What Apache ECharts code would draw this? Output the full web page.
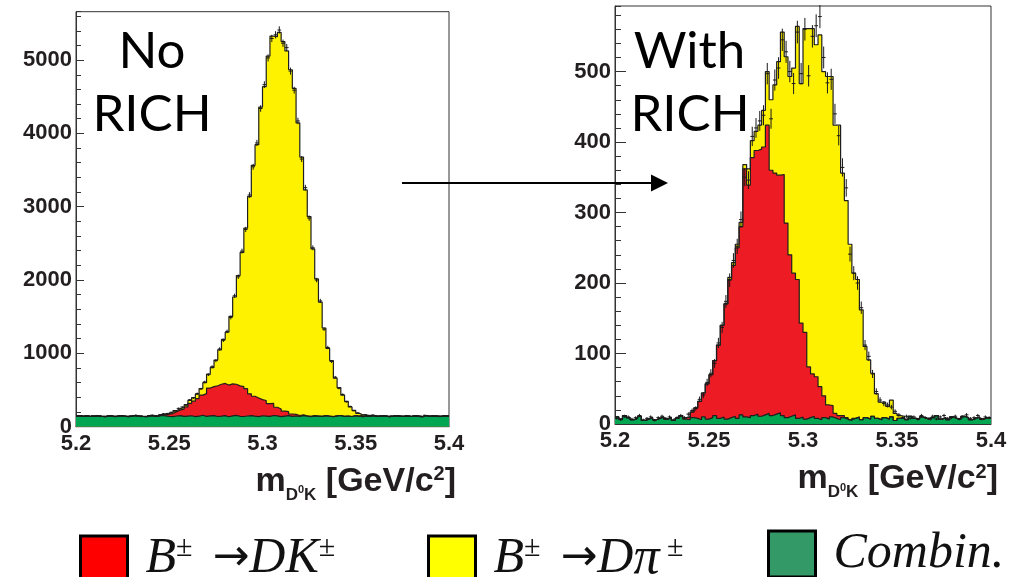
<!DOCTYPE html>
<html>
<head>
<meta charset="utf-8">
<script src="https://cdn.jsdelivr.net/npm/echarts@6/dist/echarts.min.js"></script>
<style>
  html, body { margin: 0; padding: 0; background: #ffffff; }
  #chart { width: 1017px; height: 577px; }
</style>
</head>
<body>
<div id="chart"></div>
<script>
// m(D0K) histograms: 100 bins of 2 MeV/c^2 between 5.2 and 5.4 GeV/c^2
const MASS_MIN = 5.2;
const MASS_MAX = 5.4;
const BIN_WIDTH = 0.002;
const massTicks = [5.2, 5.25, 5.3, 5.35, 5.4];

// ---- Without RICH particle identification ----
const combNoRich = [
  148,142,150,139,145,152,141,137,149,144,
  140,151,146,138,143,155,147,141,136,150,
  144,139,153,148,142,137,146,151,140,145,
  149,138,143,156,141,147,152,139,144,150,
  136,148,154,142,139,146,151,143,137,149,
  145,140,153,147,138,144,150,141,146,139,
  152,143,137,148,145,140,151,144,138,147,
  153,141,146,139,150,143,137,148,144,152,
  140,145,149,138,143,151,146,141,147,139,
  150,144,138,153,142,148,145,140,151,146
];
const dkNoRich = [
  0,0,0,0,0,0,0,0,0,0,
  0,0,0,0,0,0,0,0,0,2,
  3,5,8,15,30,42,60,78,100,125,
  170,210,240,275,310,380,395,420,435,440,
  432,436,425,415,408,372,298,272,255,220,
  212,175,165,118,104,68,55,32,22,14,
  10,6,4,2,1,0,0,0,0,0,
  0,0,0,0,0,0,0,0,0,0,
  0,0,0,0,0,0,0,0,0,0,
  0,0,0,0,0,0,0,0,0,0
];
const dpiNoRich = [
  0,0,0,0,0,0,0,0,0,0,
  0,0,0,0,0,0,0,0,2,3,
  4,5,6,8,10,12,14,17,22,30,
  40,50,60,90,150,190,260,350,470,600,
  720,920,1190,1505,1830,2190,2690,3150,3455,3990,
  4280,4740,5010,5055,5135,5040,4920,4695,4445,3990,
  3515,3080,2725,2275,1870,1560,1195,925,765,515,
  380,288,200,130,72,40,22,12,6,3,
  0,0,0,0,0,0,0,0,0,0,
  0,0,0,0,0,0,0,0,0,0
];
const dataNoRich = [
  145,150,144,142,151,147,139,143,146,149,
  137,148,150,141,146,152,144,138,141,152,
  156,147,163,175,180,196,214,250,268,296,
  366,392,451,515,610,709,818,901,1060,1178,
  1300,1490,1785,2045,2395,2690,3160,3545,3870,4340,
  4665,5030,5295,5345,5410,5230,5170,4850,4590,4170,
  3650,3260,2845,2440,2000,1715,1330,1080,890,675,
  525,440,340,276,218,188,156,163,147,158,
  143,148,151,140,146,149,143,139,150,142,
  147,141,136,155,144,150,147,138,149,144
];

// ---- With RICH particle identification ----
const combRich = [
  10,7,12,9,6,8,11,5,7,9,
  6,8,10,7,9,5,8,11,7,6,
  9,8,6,10,7,9,12,8,10,7,
  9,11,8,13,10,9,12,14,11,13,
  15,12,14,16,12,9,11,13,8,10,
  7,9,11,8,6,9,7,10,8,6,
  9,7,5,8,10,6,9,7,11,8,
  6,9,7,10,5,8,9,6,11,8,
  7,10,8,6,9,12,7,9,6,10,
  8,7,11,9,6,8,10,7,9,8
];
const dkRich = [
  0,0,0,0,0,0,0,0,0,0,
  0,0,0,0,0,0,0,1,2,4,
  8,15,26,34,50,61,78,104,130,163,
  196,214,242,267,352,330,366,374,379,380,
  409,348,342,337,342,276,229,201,197,133,
  123,72,60,59,47,31,20,16,7,6,
  3,2,1,0,0,0,0,0,0,0,
  0,0,0,0,0,0,0,0,0,0,
  0,0,0,0,0,0,0,0,0,0,
  0,0,0,0,0,0,0,0,0,0
];
const dpiRich = [
  0,0,0,0,0,0,0,0,0,0,
  0,0,0,0,0,0,0,0,0,0,
  0,0,0,0,0,0,0,0,0,1,
  3,4,5,6,6,23,24,27,34,52,
  76,100,125,161,202,236,253,291,359,340,
  431,480,490,471,499,460,466,467,409,412,
  344,308,249,206,195,156,101,84,61,35,
  25,22,18,24,10,4,2,1,0,0,
  0,0,0,0,0,0,0,0,0,0,
  0,0,0,0,0,0,0,0,0,0
];
const dataRich = [
  8,6,11,10,7,9,12,6,8,10,
  5,9,11,8,10,6,9,12,9,14,
  19,22,35,41,59,72,86,115,137,174,
  204,232,252,290,350,346,408,420,430,438,
  497,433,488,505,545,528,500,483,556,497,
  560,494,550,565,578,520,484,489,440,409,
  364,335,241,214,200,165,112,96,71,46,
  34,29,27,24,18,13,9,11,8,10,
  7,12,9,8,11,7,10,12,8,9,
  11,7,10,13,8,9,12,7,10,9
];

// Relative size of the statistical error bars (weighted events)
const ERR_SCALE = 0.68;

const FILL = { dpi: '#fff200', dk: '#ed1c24', comb: '#00a651' };
const LEGEND_FILL = { dk: '#ff0000', dpi: '#ffff00', comb: '#339966' };
const INK = '#231f20';

function addArrays(...arrs) {
  return arrs[0].map((_, i) => arrs.reduce((s, a) => s + a[i], 0));
}
function binLow(i) { return +(MASS_MIN + i * BIN_WIDTH).toFixed(4); }
function stepPoints(values) {
  const pts = values.map((v, i) => [binLow(i), v]);
  pts.push([MASS_MAX, values[values.length - 1]]);
  return pts;
}
function histSeries(name, values, color, panel) {
  return {
    type: 'line', name, xAxisIndex: panel, yAxisIndex: panel * 2,
    data: stepPoints(values), step: 'end', symbol: 'none', showSymbol: false,
    lineStyle: { color: '#1e1e1e', width: 1.2 },
    areaStyle: { color, opacity: 1, origin: 'start' },
    itemStyle: { color },
    silent: true, animation: false, clip: true, z: 2
  };
}
function pointSeries(values, panel) {
  return {
    type: 'custom', xAxisIndex: panel, yAxisIndex: panel * 2,
    silent: true, animation: false, z: 5, clip: false,
    data: values.map((v, i) => [binLow(i) + BIN_WIDTH / 2, v, ERR_SCALE * Math.sqrt(v)]),
    encode: { x: 0, y: 1 },
    renderItem(params, api) {
      const x = api.value(0), y = api.value(1), e = api.value(2);
      const c = api.coord([x, y]);
      const hi = api.coord([x, y + e]);
      const lo = api.coord([x, Math.max(0, y - e)]);
      const half = api.size([BIN_WIDTH, 0])[0] / 2;
      const st = { stroke: '#1a1a1a', lineWidth: 1 };
      return {
        type: 'group',
        children: [
          { type: 'line', shape: { x1: c[0] - half, y1: c[1], x2: c[0] + half, y2: c[1] }, style: st },
          { type: 'line', shape: { x1: c[0], y1: hi[1], x2: c[0], y2: lo[1] }, style: st }
        ]
      };
    }
  };
}

const stackNoRich = addArrays(combNoRich, dkNoRich);
const totalNoRich = addArrays(combNoRich, dkNoRich, dpiNoRich);
const stackRich = addArrays(combRich, dkRich);
const totalRich = addArrays(combRich, dkRich, dpiRich);

const labelFont = { fontFamily: 'Liberation Sans', fontWeight: 'bold', fontSize: 22, color: INK };

const axisTitle = '{b|m}{s|D}{s0|0}{s|K}{b| [GeV/c}{p|2}{b|]}';
const axisTitleRich = {
  b: { fontFamily: 'Liberation Sans', fontWeight: 'bold', fontSize: 34, lineHeight: 44, color: INK },
  s: { fontFamily: 'Liberation Sans', fontWeight: 'bold', fontSize: 17, lineHeight: 10, verticalAlign: 'bottom', color: INK },
  s0: { fontFamily: 'Liberation Sans', fontWeight: 'bold', fontSize: 11, lineHeight: 8, verticalAlign: 'bottom', padding: [0, 0, 8, 0], color: INK },
  p: { fontFamily: 'Liberation Sans', fontWeight: 'bold', fontSize: 20, lineHeight: 20, verticalAlign: 'top', padding: [5, 0, 0, 0], color: INK }
};

function xAxisDef(grid) {
  return {
    gridIndex: grid, type: 'value', min: MASS_MIN, max: MASS_MAX, interval: 0.05,
    axisLine: { show: true, lineStyle: { color: '#333', width: 1 } },
    axisTick: { show: false }, splitLine: { show: false },
    axisLabel: Object.assign({ margin: 6, formatter: v => massTicks.find(t => Math.abs(t - v) < 1e-6).toString() }, labelFont),
    name: axisTitle, nameLocation: 'end', nameGap: 7,
    nameTextStyle: { align: 'right', verticalAlign: 'top', padding: [33, 0, 0, 0], rich: axisTitleRich }
  };
}
function yAxisDefs(grid, max, major, minor, majorLen, minorLen) {
  return [
    {
      gridIndex: grid, type: 'value', min: 0, max, interval: major,
      axisLine: { show: true, lineStyle: { color: '#333', width: 1 } },
      axisTick: { show: true, inside: true, length: majorLen, lineStyle: { color: '#333' } },
      axisLabel: Object.assign({ showMaxLabel: false, margin: 4, formatter: v => String(v) }, labelFont),
      splitLine: { show: false }
    },
    {
      gridIndex: grid, type: 'value', min: 0, max, interval: minor, position: 'left',
      axisLine: { show: false },
      axisTick: { show: true, inside: true, length: minorLen, lineStyle: { color: '#333' } },
      axisLabel: { show: false }, splitLine: { show: false }
    }
  ];
}

const legendText = {
  dk: '{i|B}{sup|±}{ar|→}{i|DK}{sup|±}',
  dpi: '{i|B}{sup|±}{ar|→}{i|D}{gr|π}{sup| ±}',
  comb: '{i|Combin.}'
};
const legendRich = {
  i: { fontFamily: 'Liberation Serif', fontStyle: 'italic', fontSize: 50, lineHeight: 60, color: '#111' },
  gr: { fontFamily: 'Liberation Serif', fontStyle: 'italic', fontSize: 52, lineHeight: 60, color: '#111' },
  sup: { fontFamily: 'Liberation Serif', fontSize: 30, lineHeight: 30, verticalAlign: 'top', padding: [4, 0, 0, 0], color: '#111' },
  ar: { fontFamily: 'DejaVu Sans', fontSize: 44, lineHeight: 60, padding: [0, 0, 0, 20], color: '#111' }
};
function legendDef(name, left) {
  return {
    left, top: 529, padding: 0, orient: 'horizontal', selectedMode: false,
    icon: 'rect', itemWidth: 47, itemHeight: 46,
    data: [{ name, itemStyle: { color: LEGEND_FILL[name], borderColor: '#000', borderWidth: 3 } }],
    formatter: n => legendText[n],
    textStyle: { padding: [0, 0, 0, 13], rich: legendRich }
  };
}

const bigFont = '51px Lato';
const chart = echarts.init(document.getElementById('chart'), null, { renderer: 'canvas' });
chart.setOption({
  animation: false,
  backgroundColor: '#ffffff',
  grid: [
    { left: 76, top: 11.7, width: 373, height: 415, show: true, borderColor: '#333', borderWidth: 1, backgroundColor: 'transparent' },
    { left: 615, top: 6, width: 376, height: 418, show: true, borderColor: '#333', borderWidth: 1, backgroundColor: 'transparent' }
  ],
  xAxis: [xAxisDef(0), xAxisDef(1)],
  yAxis: [
    ...yAxisDefs(0, 5660, 1000, 200, 8, 5),
    ...yAxisDefs(1, 593, 100, 20, 11, 6)
  ],
  legend: [legendDef('dk', 79), legendDef('dpi', 427), legendDef('comb', 767)],
  series: [
    histSeries('dpi', totalNoRich, FILL.dpi, 0),
    histSeries('dk', stackNoRich, FILL.dk, 0),
    histSeries('comb', combNoRich, FILL.comb, 0),
    pointSeries(dataNoRich, 0),
    histSeries('dpi', totalRich, FILL.dpi, 1),
    histSeries('dk', stackRich, FILL.dk, 1),
    histSeries('comb', combRich, FILL.comb, 1),
    pointSeries(dataRich, 1)
  ],
  graphic: [
    { type: 'text', x: 152, y: 51.5, z: 10, style: { text: 'No', font: bigFont, fill: '#000', align: 'center', verticalAlign: 'middle' } },
    { type: 'text', x: 152, y: 115, z: 10, style: { text: 'RICH', font: bigFont, fill: '#000', align: 'center', verticalAlign: 'middle' } },
    { type: 'text', x: 689.5, y: 51.5, z: 10, style: { text: 'With', font: bigFont, fill: '#000', align: 'center', verticalAlign: 'middle' } },
    { type: 'text', x: 690, y: 115, z: 10, style: { text: 'RICH', font: bigFont, fill: '#000', align: 'center', verticalAlign: 'middle' } },
    { type: 'line', z: 10, shape: { x1: 402, y1: 183, x2: 654, y2: 183 }, style: { stroke: '#000', lineWidth: 2 } },
    { type: 'polygon', z: 10, shape: { points: [[651, 174.5], [668, 183], [651, 191.5]] }, style: { fill: '#000' } }
  ]
});
</script>
</body>
</html>
